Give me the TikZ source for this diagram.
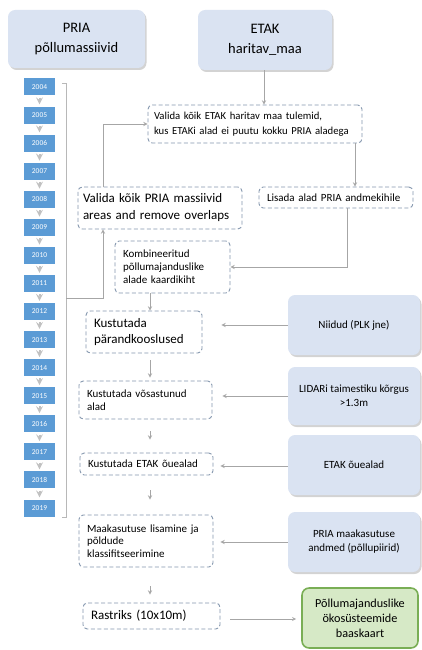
\documentclass[tikz,border=0pt]{standalone}
\usepackage{fontspec}
\setmainfont{Carlito}
\usepackage{xcolor}
\usepackage{tikz}
\usetikzlibrary{calc}
\usetikzlibrary{positioning}
\usetikzlibrary{arrows}
\usetikzlibrary{shadows}

\definecolor{srcfill}{HTML}{DAE3F2}
\definecolor{dashcol}{HTML}{8496AE}
\definecolor{yearcol}{HTML}{5B9BD5}
\definecolor{arrcol}{HTML}{A6A6A6}
\definecolor{greenfill}{HTML}{D6E9C6}
\definecolor{greendraw}{HTML}{79AE55}

\begin{document}
\begin{tikzpicture}[
    x = 1pt,
    y = -1pt,
    >=stealth,
    src/.style = {
      rectangle,
      fill=srcfill,
      rounded corners=2.5mm,
      drop shadow={opacity=.35, shadow xshift=1.5pt, shadow yshift=-2pt},
      align=center,
      inner sep=4pt
    },
    stepbox/.style = {
      rectangle,
      draw=dashcol,
      dashed,
      dash pattern=on 4pt off 2.5pt,
      line width=.9pt,
      rounded corners=1.5mm,
      fill=white,
      align=left,
      inner xsep=8pt,
      inner ysep=2pt
    },
    year/.style = {
      rectangle,
      fill=yearcol,
      text=white,
      font=\fontsize{7.5}{8}\selectfont,
      minimum width=31pt,
      minimum height=17pt,
      inner sep=0pt
    },
    result/.style = {
      rectangle,
      fill=greenfill,
      draw=greendraw,
      line width=1.6pt,
      rounded corners=2.5mm,
      align=center,
      inner sep=3pt
    },
    arr/.style = {
      ->,
      draw=arrcol,
      line width=.9pt
    },
    yrarr/.style = {
      ->,
      draw=arrcol!70,
      line width=2pt,
      shorten <=2pt,
      shorten >=2pt
    },
    small/.style = {font=\fontsize{11}{13}\selectfont},
    mid/.style = {font=\fontsize{13}{17}\selectfont},
    big/.style = {font=\fontsize{14.5}{20}\selectfont}
  ]
    \useasboundingbox (0,0) rectangle (421,650);

    % sources on top
    \node[src, big, minimum width=137pt, minimum height=58pt]
      (pria) at (76.5,39) {PRIA\\põllumassiivid};
    \node[src, big, minimum width=134pt, minimum height=60pt]
      (etak) at (265,40) {ETAK\\haritav\_maa};

    % years
    \foreach \yr [count=\i from 0] in {2004,...,2019}
      \node[year] (y\yr) at (39.5,87+28.07*\i) {\yr};
    \foreach \yr in {2005,...,2019} {
      \pgfmathtruncatemacro\prev{\yr-1}
      \draw[yrarr] (y\prev) -- (y\yr);
    }

    \coordinate (brt) at (66,83);
    \coordinate (brb) at (66,517);
    \coordinate (brm) at (66,298);
    \draw[draw=arrcol!80, line width=.9pt] (brt) ++(-4,0) -- (brt) -- (brb) -- ++(-4,0);

    % processing steps
    \node[stepbox, inner xsep=6pt, text width=202pt, minimum height=38pt, font=\fontsize{10.7}{15}\selectfont]
      (vale) at (255,124) {\mbox{Valida kõik ETAK haritav maa tulemid,}\\\mbox{kus ETAKi alad ei puutu kokku PRIA aladega}};
    \node[stepbox, mid, inner xsep=5pt, text width=154pt, minimum height=42pt]
      (valp) at (160,208) {\mbox{Valida kõik PRIA massiivid}\\\mbox{areas and remove overlaps}};
    \node[stepbox, small, text width=138pt, minimum height=21pt]
      (lis) at (336,197.5) {Lisada alad PRIA andmekihile};
    \node[stepbox, small, text width=99pt, minimum height=52pt]
      (komb) at (172.5,267) {Kombineeritud\\põllumajanduslike\\alade kaardikiht};
    \node[stepbox, text width=100pt, minimum height=42pt, font=\fontsize{13}{15.5}\selectfont]
      (kp) at (144,332) {Kustutada\\pärandkooslused};
    \node[stepbox, small, text width=117pt, minimum height=38pt]
      (kv) at (145.5,400) {Kustutada võsastunud\\alad};
    \node[stepbox, small, text width=117pt, minimum height=22pt]
      (ko) at (146.5,464) {Kustutada ETAK õuealad};
    \node[stepbox, text width=118pt, minimum height=52pt, font=\fontsize{11}{12.5}\selectfont]
      (mk) at (146,541) {Maakasutuse lisamine ja\\põldude\\klassifitseerimine};
    \node[stepbox, mid, text width=121pt, minimum height=26pt]
      (ras) at (151.5,616) {Rastriks (10x10m)};

    % extra inputs on the right
    \node[src, small, minimum width=132pt, minimum height=60pt]
      (niid) at (354,325) {Niidud (PLK jne)};
    \node[src, minimum width=132pt, minimum height=58pt, font=\fontsize{11}{14}\selectfont]
      (lid) at (354,396) {LIDARi taimestiku kõrgus\\>1.3m};
    \node[src, small, minimum width=132pt, minimum height=60pt]
      (oue) at (354,465) {ETAK õuealad};
    \node[src, minimum width=132pt, minimum height=60pt, font=\fontsize{11}{14}\selectfont]
      (pmk) at (354,542) {PRIA maakasutuse\\andmed (põllupiirid)};

    \node[result, minimum width=116pt, minimum height=60pt, font=\fontsize{12.2}{15}\selectfont]
      (baas) at (360,618) {Põllumajanduslike\\ökosüsteemide\\baaskaart};

    % connectors
    \draw[arr] (etak.south -| 264,0) -- (vale.north -| 264,0);
    \draw[arr] ([xshift=-57pt]valp.north) |- (vale.west);
    \draw[arr] (brm) -| ([xshift=-57pt]valp.south);
    \draw[arr] ([xshift=100pt]vale.south) -- ([xshift=19pt]lis.north);
    \draw[arr] ([xshift=11pt]lis.south) |- (komb.east);

    \coordinate (col) at (150,0);
    \draw[arr] (komb.south -| col) -- (kp.north -| col);
    \draw[arr, shorten <=7pt, shorten >=3pt] (kp.south -| col) -- (kv.north -| col);
    \draw[arr, shorten <=12pt, shorten >=13pt] (kv.south -| col) -- (ko.north -| col);
    \draw[arr, shorten <=15pt, shorten >=15pt] (ko.south -| col) -- (mk.north -| col);
    \draw[arr, shorten <=19pt, shorten >=8pt] (mk.south -| col) -- (ras.north -| col);

    \draw[arr, shorten >=19pt] (niid.west) -- (niid.west -| kp.east);
    \draw[arr, shorten >=10pt] (lid.west) -- (lid.west -| kv.east);
    \draw[arr, shorten >=7pt] ([yshift=-1pt]oue.west) -- ([yshift=-1pt]oue.west -| ko.east);
    \draw[arr, shorten >=7pt] (pmk.west) -- (pmk.west -| mk.east);
    \draw[arr, shorten <=10pt, shorten >=5pt] ([yshift=-3pt]ras.east) -- ([yshift=-3pt]ras.east -| baas.west);

  \end{tikzpicture}
\end{document}
